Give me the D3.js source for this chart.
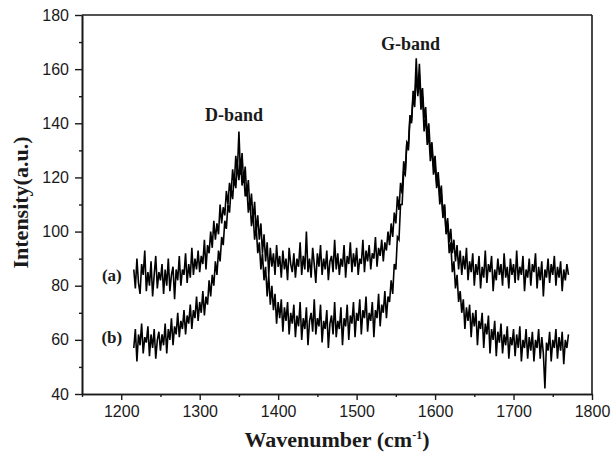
<!DOCTYPE html>
<html>
<head>
<meta charset="utf-8">
<script src="https://cdn.jsdelivr.net/npm/d3@7/dist/d3.min.js"></script>
<style>
  html, body { margin: 0; padding: 0; background: #fff; }
  svg { display: block; }
</style>
</head>
<body>
<svg id="chart" width="615" height="464"></svg>
<script>
// ---- data ----
const wnStart = 1216;           // first wavenumber sampled (cm-1)
const wnStep = 2;               // spacing between samples (cm-1)
const xMajorTicks = [1200, 1300, 1400, 1500, 1600, 1700, 1800];
const xMinorTicks = [1150, 1250, 1350, 1450, 1550, 1650, 1750];
const yMajorTicks = [40, 60, 80, 100, 120, 140, 160, 180];
const yMinorTicks = [50, 70, 90, 110, 130, 150, 170];
const seriesLabels = ["(a)", "(b)"];
const bandLabels = ["D-band", "G-band"];
const bandPositions = [1350, 1575];
const bandHeights = [141, 167];

const seriesA = [
  86,79,90,81,77,88,84,93,78,85,80,89,76,84,91,79,85,82,88,77,
  86,80,90,78,84,87,75,86,82,91,80,86,84,92,81,88,83,94,84,90,
  86,93,85,91,88,97,86,95,92,100,94,104,97,103,99,110,103,109,106,115,
  110,118,114,123,117,128,122,137,121,129,118,124,113,119,108,114,104,111,100,106,
  97,103,92,99,89,96,84,94,87,92,84,95,87,91,83,93,86,90,82,94,
  88,85,92,83,90,87,96,84,91,86,100,85,90,83,94,88,81,92,87,95,
  84,90,86,93,82,89,91,85,97,86,92,84,90,87,95,83,91,88,96,85,
  92,87,94,84,90,88,97,85,93,89,95,86,92,90,98,87,94,91,97,89,
  96,93,100,95,103,98,107,103,113,108,118,114,126,122,133,130,142,140,152,149,
  164,150,158,145,150,137,143,132,136,126,131,121,125,116,120,110,114,105,110,100,
  105,96,101,92,97,89,95,86,93,84,91,86,94,82,89,85,92,80,88,84,
  91,79,87,83,93,81,88,85,91,78,86,82,90,84,88,80,92,83,87,79,
  90,84,88,81,93,82,87,84,91,78,86,83,90,80,88,85,92,79,87,82,
  89,76,86,83,90,81,88,84,91,80,87,83,89,78,86,82,88,84
];

const seriesB = [
  57,64,52,62,58,66,55,61,59,65,54,62,57,64,53,60,63,56,62,58,
  66,55,64,60,68,58,65,62,70,61,67,64,71,62,69,66,73,64,71,68,
  76,67,74,70,78,69,76,73,82,76,84,80,89,84,93,89,98,95,104,101,
  110,107,116,112,121,116,125,119,127,117,122,113,117,107,112,102,107,97,102,92,
  96,86,92,82,87,76,84,73,80,71,77,66,74,68,75,63,72,67,74,62,
  70,66,73,61,69,65,74,60,68,64,72,58,67,70,63,75,62,68,65,73,
  59,67,64,71,57,66,69,62,74,61,67,64,72,58,68,65,73,60,69,66,
  74,61,70,67,75,62,71,68,76,63,70,67,74,61,71,68,77,65,73,70,
  78,68,76,74,82,77,88,86,98,97,110,110,122,121,133,132,143,141,150,146,
  158,151,162,149,153,142,146,135,140,129,133,124,128,118,122,113,117,106,110,99,
  103,92,96,85,89,79,84,74,78,70,75,64,72,67,73,61,70,65,71,58,
  67,64,70,57,66,62,69,55,64,60,67,54,63,59,66,55,62,58,65,53,
  61,58,64,54,62,57,65,52,60,57,64,53,61,56,63,52,60,57,64,53,
  61,55,42,59,56,63,52,60,57,64,53,61,56,63,51,60,57,62
];

// ---- layout ----
const svg = d3.select("#chart");
const margin = { left: 82, top: 15, right: 23, bottom: 70 };
const W = 615, H = 464;
const iw = W - margin.left - margin.right;
const ih = H - margin.top - margin.bottom;
const ink = "#1a1a1a";

const x = d3.scaleLinear().domain([1150, 1800]).range([0, iw]);
const y = d3.scaleLinear().domain([40, 180]).range([ih, 0]);

const g = svg.append("g").attr("transform", `translate(${margin.left},${margin.top})`);

// ---- data lines ----
const line = d3.line()
  .x((d, i) => x(wnStart + i * wnStep))
  .y(d => y(d));

[seriesA, seriesB].forEach(s => {
  g.append("path")
    .datum(s)
    .attr("d", line)
    .attr("fill", "none")
    .attr("stroke", "#000")
    .attr("stroke-width", 1.6)
    .attr("stroke-linejoin", "miter");
});

// ---- axes ----
const tickFont = "'Liberation Sans', Arial, sans-serif";

const xAxis = g.append("g").attr("transform", `translate(0,${ih})`)
  .call(d3.axisBottom(x).tickValues(xMajorTicks).tickSize(6).tickSizeOuter(0).tickPadding(6).tickFormat(d3.format("d")));
const xMinor = g.append("g").attr("transform", `translate(0,${ih})`)
  .call(d3.axisBottom(x).tickValues(xMinorTicks).tickSize(3).tickSizeOuter(0).tickFormat(""));
const yAxis = g.append("g")
  .call(d3.axisLeft(y).tickValues(yMajorTicks).tickSize(7).tickSizeOuter(0).tickPadding(6).tickFormat(d3.format("d")));
const yMinor = g.append("g")
  .call(d3.axisLeft(y).tickValues(yMinorTicks).tickSize(3).tickSizeOuter(0).tickFormat(""));

[xAxis, xMinor, yAxis, yMinor].forEach(a => {
  a.selectAll(".domain").attr("stroke", ink).attr("stroke-width", 1.6);
  a.selectAll(".tick line").attr("stroke", ink).attr("stroke-width", 1.4);
  a.selectAll("text").attr("fill", ink).style("font-family", tickFont).style("font-size", "16px");
});

// top and right frame lines
g.append("line").attr("x1", 0).attr("x2", iw).attr("y1", 0).attr("y2", 0)
  .attr("stroke", ink).attr("stroke-width", 1.6);
g.append("line").attr("x1", iw).attr("x2", iw).attr("y1", 0).attr("y2", ih)
  .attr("stroke", ink).attr("stroke-width", 1.6);

// ---- titles ----
const serif = "'Liberation Serif', 'Times New Roman', serif";

svg.append("text")
  .attr("transform", `translate(28,${margin.top + ih / 2 - 2}) rotate(-90)`)
  .attr("text-anchor", "middle")
  .style("font-family", serif).style("font-size", "22px").style("font-weight", "bold")
  .attr("fill", ink)
  .text("Intensity(a.u.)");

const xt = svg.append("text")
  .attr("x", margin.left + iw / 2)
  .attr("y", 447)
  .attr("text-anchor", "middle")
  .style("font-family", serif).style("font-size", "22px").style("font-weight", "bold")
  .attr("fill", ink);
xt.append("tspan").text("Wavenumber (cm");
xt.append("tspan").attr("dy", -8).style("font-size", "12px").text("-1");
xt.append("tspan").attr("dy", 8).text(")");

// ---- annotations ----
bandLabels.forEach((t, i) => {
  g.append("text")
    .attr("x", x(bandPositions[i]) - 5)
    .attr("y", y(bandHeights[i]))
    .attr("text-anchor", "middle")
    .style("font-family", serif).style("font-size", "18px").style("font-weight", "bold")
    .attr("fill", ink)
    .text(t);
});

const seriesLabelY = [84, 61];
seriesLabels.forEach((t, i) => {
  g.append("text")
    .attr("x", x(1188))
    .attr("y", y(seriesLabelY[i]) + 6)
    .attr("text-anchor", "middle")
    .style("font-family", serif).style("font-size", "17px").style("font-weight", "bold")
    .attr("fill", ink)
    .text(t);
});
</script>
</body>
</html>
